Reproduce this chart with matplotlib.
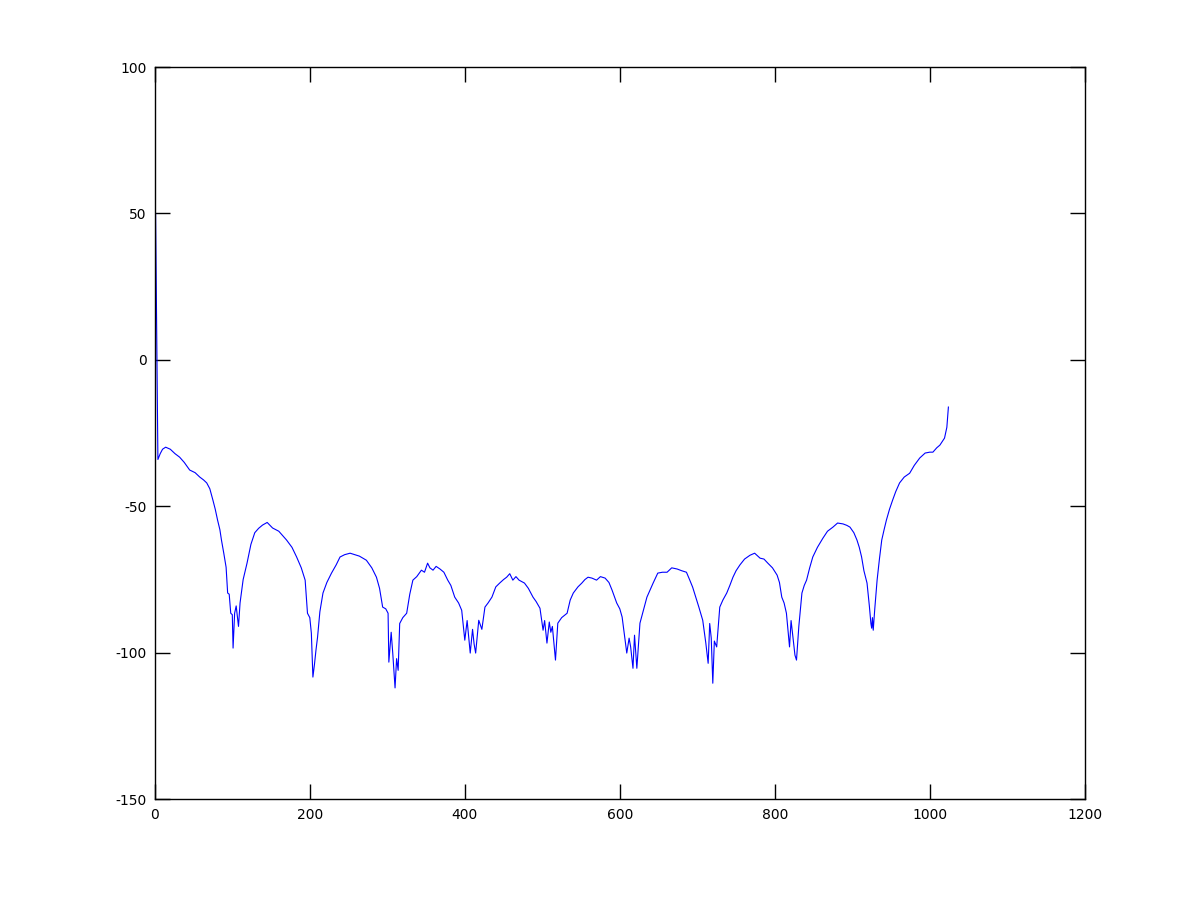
import matplotlib
matplotlib.use("Agg")
import matplotlib.pyplot as plt

# values (bin index vs. level)
bins = [1, 4, 7, 10, 14, 20, 26, 32, 38, 45, 52, 58, 63, 67, 71, 75, 78, 81, 84, 86,
        89, 92, 94, 96, 98, 100, 101, 103, 105, 108, 110, 114, 119, 124, 129, 134, 139, 145, 152, 160,
        170, 177, 183, 189, 194, 197, 200, 202, 204, 206, 208, 210, 213, 217, 222, 228, 234, 239, 245, 252,
        258, 264, 273, 280, 286, 290, 294, 298, 301, 302, 305, 307, 310, 312, 314, 316, 320, 325, 329, 333,
        338, 344, 348, 352, 355, 359, 363, 368, 373, 378, 382, 387, 392, 396, 400, 403, 407, 410, 412, 414,
        418, 422, 426, 430, 435, 440, 445, 450, 454, 458, 462, 466, 470, 477, 482, 488, 492, 497, 501, 503,
        506, 509, 511, 513, 517, 520, 525, 532, 536, 540, 546, 551, 555, 559, 564, 570, 575, 581, 586, 590,
        596, 600, 603, 606, 609, 612, 614, 617, 619, 622, 626, 630, 635, 640, 643, 649, 655, 661, 667, 674,
        680, 686, 690, 694, 698, 702, 707, 711, 714, 716, 718, 720, 722, 725, 729, 733, 738, 742, 746, 750,
        755, 761, 768, 774, 781, 786, 791, 797, 803, 806, 809, 812, 815, 819, 821, 824, 826, 828, 831, 835,
        838, 841, 845, 849, 855, 862, 868, 875, 881, 888, 893, 897, 902, 906, 909, 912, 915, 919, 922, 924,
        925, 926, 927, 929, 932, 935, 938, 941, 944, 948, 952, 956, 961, 967, 974, 980, 987, 994, 1000, 1004,
        1009, 1013, 1019, 1022, 1024]
level = [50, -34, -32, -30.5, -29.8, -30.5, -32, -33.2, -35, -37.6, -38.5, -40, -41, -42, -44, -47.9, -51, -54.7, -58, -61.5,
         -66, -70.8, -79.6, -80, -86.5, -87, -98.4, -86.5, -84, -91, -83, -75, -69.4, -63, -59, -57.5, -56.4, -55.5, -57.4, -58.5,
         -61.5, -64, -67.3, -71, -75.2, -86.5, -88, -93.3, -108.3, -104, -99, -94.7, -86, -79.6, -76, -72.8, -70, -67.3, -66.5, -66,
         -66.5, -67, -68.4, -71, -74.2, -78, -84.4, -85, -86.5, -103.2, -93, -100, -112, -102, -106, -90, -88, -86.5, -80, -75.2,
         -74, -71.8, -72.5, -69.4, -71, -71.8, -70.5, -71.4, -72.5, -75.2, -77, -81, -83, -85.5, -95.7, -89, -100.1, -92, -97, -100.1,
         -88.9, -92, -84.4, -83, -81, -77.5, -76.2, -75, -74.2, -73, -75.2, -74, -75.2, -76.2, -78, -81, -82.5, -84.8, -92.3, -89,
         -96.7, -89.5, -93, -91, -102.5, -89.9, -88, -86.5, -82, -79.6, -77.5, -76.2, -75, -74.2, -74.5, -75.2, -74, -74.5, -76, -78.6,
         -83, -85, -87.8, -94, -100.1, -95, -98, -105.3, -94, -105.3, -89.9, -86, -81, -78, -76.2, -72.8, -72.5, -72.5, -71, -71.4,
         -72, -72.5, -75, -77.6, -81, -84.4, -88.9, -96.7, -103.6, -90, -95, -110.4, -96, -98, -84.4, -82, -79.6, -77, -74.2, -72,
         -70, -68, -66.7, -66, -67.7, -68, -69.4, -71, -73.5, -76, -81, -83, -86.5, -98, -89, -96, -100.8, -102.5, -91, -79.6,
         -77, -75.2, -71, -67.3, -64, -60.9, -58.5, -57.1, -55.7, -56, -56.5, -57.1, -59, -61.5, -64, -67.3, -72, -76.2, -84, -90,
         -91.6, -88, -92.3, -85, -75.2, -68, -61.5, -58, -54.7, -51, -47.9, -45, -42, -40, -38.7, -36, -33.5, -31.8, -31.5, -31.5,
         -30, -29.1, -26.7, -23, -16.1]

xticks = [0, 200, 400, 600, 800, 1000, 1200]
yticks = [-150, -100, -50, 0, 50, 100]

plt.rcParams['axes.unicode_minus'] = False
plt.rcParams['font.family'] = ['DejaVu Sans']

fig = plt.figure(figsize=(12, 9), dpi=100)
ax = fig.add_axes([0.129, 0.112, 0.775, 0.8135])
ax.plot(bins, level, color='#0000ff', linewidth=0.8)

ax.set_xlim(0, 1200)
ax.set_ylim(-150, 100)
ax.set_xticks(xticks)
ax.set_yticks(yticks)
ax.tick_params(direction='in', length=11, width=1, top=True, right=True, labelsize=10, pad=6)
for s in ax.spines.values():
    s.set_linewidth(1)

fig.savefig("out.png", dpi=100)
